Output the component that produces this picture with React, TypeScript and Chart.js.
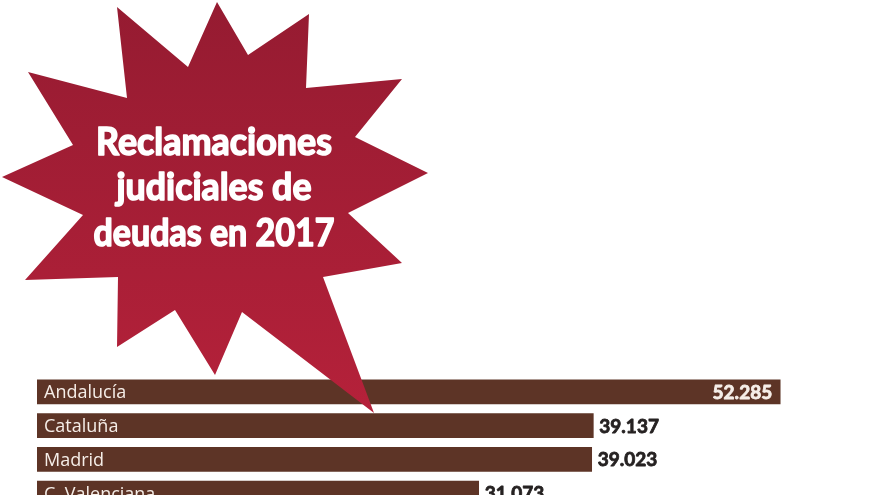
import React, { useEffect, useRef } from "react";
import { Chart, registerables } from "chart.js";

Chart.register(...registerables);

const categories: string[] = ["Andalucía", "Cataluña", "Madrid", "C. Valenciana"];
const values: number[] = [52285, 39137, 39023, 31073];
const titleLines: string[] = ["Reclamaciones", "judiciales de", "deudas en 2017"];

const BAR_COLOR = "#5d3426";
const BURST_TOP = "#951b31";
const BURST_BOTTOM = "#b5213a";

// decorative starburst outline (speech-bubble shape)
const BURST: [number, number][] = [
  [217, 2], [248, 55], [309, 14], [306, 88], [402, 79], [355, 137], [428, 173],
  [348, 213], [402, 263], [323, 277], [374, 413], [242, 312], [215, 375],
  [175, 310], [117, 347], [118, 277], [25, 280], [83, 215], [2, 177],
  [73, 145], [28, 72], [127, 98], [117, 7], [188, 67],
];
// title layout: [centerX, baseline, targetWidth]
const TITLE_POS: [number, number, number][] = [
  [214, 155, 236],
  [214, 200, 195],
  [214, 246, 241],
];

function fmt(v: number): string {
  const s = Math.round(v).toString();
  return s.replace(/\B(?=(\d{3})+(?!\d))/g, ".");
}

const decorPlugin = {
  id: "decor",
  afterDatasetsDraw(chart: any) {
    const ctx: CanvasRenderingContext2D = chart.ctx;
    const meta = chart.getDatasetMeta(0);
    const max = Math.max(...values);
    ctx.save();
    ctx.lineJoin = "round";
    meta.data.forEach((el: any, i: number) => {
      const y = el.y;
      ctx.textBaseline = "alphabetic";
      ctx.font = '18px "Open Sans"';
      ctx.fillStyle = "#f6eee8";
      ctx.textAlign = "left";
      ctx.fillText(categories[i], el.base + 7, y + 6.5);
      ctx.font = 'bold 19px Lato';
      const txt = fmt(values[i]);
      ctx.lineWidth = 0.8;
      if (values[i] === max) {
        ctx.fillStyle = "#f6eee8";
        ctx.strokeStyle = "#f6eee8";
        ctx.textAlign = "right";
        ctx.fillText(txt, el.x - 8, y + 7);
        ctx.strokeText(txt, el.x - 8, y + 7);
      } else {
        ctx.fillStyle = "#262222";
        ctx.strokeStyle = "#262222";
        ctx.textAlign = "left";
        ctx.fillText(txt, el.x + 6, y + 7);
        ctx.strokeText(txt, el.x + 6, y + 7);
      }
    });
    ctx.restore();
  },
  afterDraw(chart: any) {
    const ctx: CanvasRenderingContext2D = chart.ctx;
    ctx.save();
    const g = ctx.createLinearGradient(0, 0, 0, 413);
    g.addColorStop(0, BURST_TOP);
    g.addColorStop(1, BURST_BOTTOM);
    ctx.beginPath();
    BURST.forEach(([x, y], i) => (i === 0 ? ctx.moveTo(x, y) : ctx.lineTo(x, y)));
    ctx.closePath();
    ctx.fillStyle = g;
    ctx.fill();

    ctx.fillStyle = "#ffffff";
    ctx.strokeStyle = "#ffffff";
    ctx.lineJoin = "round";
    ctx.lineWidth = 1.6;
    ctx.font = 'bold 38px Lato';
    ctx.textAlign = "center";
    ctx.textBaseline = "alphabetic";
    titleLines.forEach((line, i) => {
      const [cx, by, w] = TITLE_POS[i];
      const m = ctx.measureText(line).width;
      ctx.save();
      ctx.translate(cx, by);
      ctx.scale(w / m, 1);
      ctx.fillText(line, 0, 0);
      ctx.strokeText(line, 0, 0);
      ctx.restore();
    });
    ctx.restore();
  },
};

export default function App() {
  const ref = useRef<HTMLCanvasElement | null>(null);
  useEffect(() => {
    if (!ref.current) return;
    const chart = new Chart(ref.current, {
      type: "bar",
      data: {
        labels: categories,
        datasets: [
          {
            data: values,
            backgroundColor: BAR_COLOR,
            borderWidth: 0,
            barThickness: 24,
          },
        ],
      },
      options: {
        indexAxis: "y",
        responsive: false,
        animation: false,
        devicePixelRatio: 1,
        layout: { padding: { left: 37, right: 47, top: 375, bottom: 10 } },
        plugins: { legend: { display: false }, tooltip: { enabled: false } },
        scales: {
          x: { display: false, min: 0, max: 56000 },
          y: { display: false },
        },
      },
      plugins: [decorPlugin],
    } as any);
    return () => chart.destroy();
  }, []);
  return (
    <div
      style={{
        position: "fixed",
        left: 0,
        top: 0,
        width: 880,
        height: 495,
        overflow: "hidden",
        background: "#ffffff",
      }}
    >
      <canvas ref={ref} width={880} height={520} style={{ width: 880, height: 520, display: "block" }} />
    </div>
  );
}
